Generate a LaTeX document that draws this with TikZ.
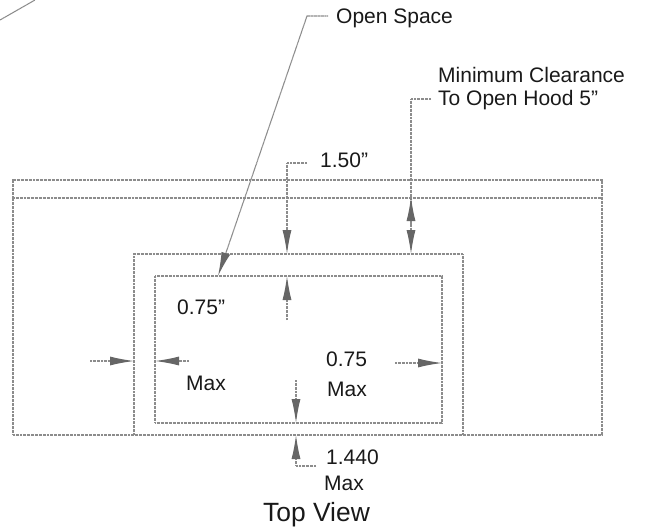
\documentclass[tikz,border=0pt]{standalone}
\usepackage{fontspec}
\setmainfont{Liberation Sans}
\usetikzlibrary{arrows.meta}
\definecolor{ln}{gray}{0.55}
\definecolor{ar}{gray}{0.4}
\definecolor{tx}{gray}{0.1}
\tikzset{
  wall/.style={draw=ln,line width=1.1pt,dash pattern=on 1pt off 0.35pt},
  lead/.style={draw=ln,line width=1.1pt,dash pattern=on 1pt off 0.35pt},
  dim/.style={lead,-{Latex[length=24pt,width=9pt,color=ar]}},
  lab/.style={inner sep=0pt,text=tx,font=\fontsize{21pt}{24pt}\selectfont,anchor=west},
}
\begin{document}
\begin{tikzpicture}[x=1pt,y=-1pt]
\useasboundingbox (0,0) rectangle (645,531);
% frames
\draw[wall] (13,198) -- (13,180) -- (602,180) -- (602,435) -- (13,435) -- cycle;
\draw[wall] (13,198) -- (602,198);
\draw[wall] (134,435) -- (134,254) -- (463,254) -- (463,435);
\draw[wall] (155,276) rectangle (442,423);
% corner stroke
\draw[lead] (0,20) -- (35,0);
% anchors
\coordinate (osA) at (328,16); \coordinate (osB) at (307,16); \coordinate (osT) at (218,276);
\coordinate (aA) at (307,163); \coordinate (aB) at (287,163); \coordinate (aT) at (287,254);
\coordinate (bA) at (287,320); \coordinate (bT) at (287,276);
\coordinate (mA) at (431,99); \coordinate (mB) at (411,99); \coordinate (mT) at (411,254);
\coordinate (nA) at (411,226); \coordinate (nT) at (411,197);
\coordinate (lA) at (90,361); \coordinate (lT) at (134,361);
\coordinate (iA) at (189,361); \coordinate (iT) at (155,361);
\coordinate (rA) at (395,363); \coordinate (rT) at (442,363);
\coordinate (dA) at (296,380); \coordinate (dT) at (296,423);
\coordinate (eB) at (316,466); \coordinate (eA) at (296,466); \coordinate (eT) at (296,435);
% connectors
\draw[dim] (osA) -- (osB) -- (osT);
\draw[dim] (aA) -- (aB) -- (aT);
\draw[dim] (bA) -- (bT);
\draw[dim] (mA) -- (mB) -- (mT);
\draw[dim] (nA) -- (nT);
\draw[dim] (lA) -- (lT);
\draw[dim] (iA) -- (iT);
\draw[dim] (rA) -- (rT);
\draw[dim] (dA) -- (dT);
\draw[dim] (eB) -- (eA) -- (eT);
% labels
\node[lab] (t1) at (336,18) {Open Space};
\node[lab] (t2) at (438,75) {Minimum Clearance};
\node[lab] (t3) at (438,100) {To Open Hood 5”};
\node[lab] (t4) at (320,160) {1.50”};
\node[lab] (t5) at (177,307) {0.75”};
\node[lab] (t6) at (186,383) {Max};
\node[lab] (t7) at (326,359) {0.75};
\node[lab] (t8) at (327,389) {Max};
\node[lab] (t9) at (326,457) {1.440};
\node[lab] (t10) at (324,483) {Max};
\node[lab,font=\fontsize{26.4pt}{30pt}\selectfont] (t11) at (263,515) {Top View};
\end{tikzpicture}
\end{document}
